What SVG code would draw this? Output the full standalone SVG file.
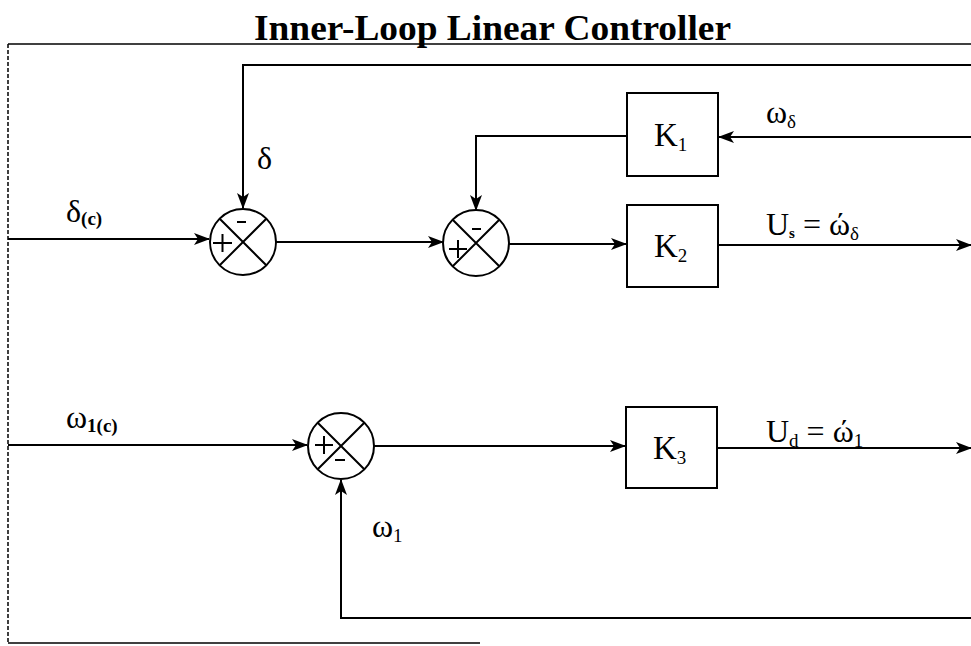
<svg xmlns="http://www.w3.org/2000/svg" width="971" height="646" viewBox="0 0 971 646">
<defs>
<marker id="ah" markerWidth="16" markerHeight="12" refX="15" refY="6" orient="auto" markerUnits="userSpaceOnUse">
<path d="M0,0 L16,6 L0,12 L4,6 Z" fill="#000"/>
</marker>
</defs>
<style>
.ln{stroke:#000;stroke-width:2;fill:none}
.bx{stroke:#000;stroke-width:2;fill:#fff}
.t{font-family:"Liberation Serif","Times New Roman",serif;fill:#000}
.lb{font-size:32px}
.sb{font-size:19px}
.kk{font-size:33px}
</style>
<rect width="971" height="646" fill="#fff"/>
<text class="t" x="254" y="40" font-size="35" font-weight="bold" textLength="477" lengthAdjust="spacingAndGlyphs">Inner-Loop Linear Controller</text>
<g id="border">
<path d="M8,44 L971,44" stroke="#000" stroke-width="1.5" fill="none"/>
<path d="M8,44 L8,643" stroke="#000" stroke-width="1.5" stroke-dasharray="4,2" fill="none"/>
<path d="M8,643 L480,643" stroke="#000" stroke-width="1.5" fill="none"/>
</g>
<g id="connectors">
<path class="ln" d="M8,239 L209,239" marker-end="url(#ah)"/>
<path class="ln" d="M971,65 L243,65 L243,208" marker-end="url(#ah)"/>
<path class="ln" d="M276,242 L443,242" marker-end="url(#ah)"/>
<path class="ln" d="M971,137 L719,137" marker-end="url(#ah)"/>
<path class="ln" d="M627,136 L476,136 L476,210" marker-end="url(#ah)"/>
<path class="ln" d="M509,244 L626,244" marker-end="url(#ah)"/>
<path class="ln" d="M718,245 L971,245" marker-end="url(#ah)"/>
<path class="ln" d="M8,445 L307,445" marker-end="url(#ah)"/>
<path class="ln" d="M374,446 L625,446" marker-end="url(#ah)"/>
<path class="ln" d="M717,448 L971,448" marker-end="url(#ah)"/>
<path class="ln" d="M971,618 L341,618 L341,480" marker-end="url(#ah)"/>
</g>
<g id="sum1">
<circle class="bx" cx="243" cy="242" r="33"/>
<path class="ln" d="M219.7,218.7 L266.3,265.3 M266.3,218.7 L219.7,265.3"/>
<path class="ln" d="M213,243 L232,243 M222.5,234 L222.5,252"/>
<path class="ln" stroke-width="3" d="M237,222 L246,222"/>
</g>
<g id="sum2">
<circle class="bx" cx="476" cy="243" r="33"/>
<path class="ln" d="M449,249 L467,249 M458,240 L458,258"/>
<path class="ln" d="M452.7,219.7 L499.3,266.3 M499.3,219.7 L452.7,266.3"/>
<path class="ln" stroke-width="3" d="M472,229 L481,229"/>
</g>
<g id="sum3">
<circle class="bx" cx="341" cy="446" r="33"/>
<path class="ln" d="M317.7,422.7 L364.3,469.3 M364.3,422.7 L317.7,469.3"/>
<path class="ln" d="M315,445 L333,445 M324,436 L324,454"/>
<path class="ln" stroke-width="3" d="M335,460 L345,460"/>
</g>
<g id="K1">
<rect class="bx" x="627" y="93" width="91" height="83"/>
<text class="t kk" x="654" y="146">K<tspan font-size="19" dy="5">1</tspan></text>
</g>
<g id="K2">
<rect class="bx" x="627" y="205" width="91" height="82"/>
<text class="t kk" x="654" y="257">K<tspan font-size="19" dy="5">2</tspan></text>
</g>
<g id="K3">
<rect class="bx" x="626" y="407" width="91" height="81"/>
<text class="t kk" x="653" y="459">K<tspan font-size="19" dy="5">3</tspan></text>
</g>
<g id="labels">
<text class="t lb" x="66" y="222">δ<tspan class="sb" font-weight="bold" dy="3">(c)</tspan></text>
<text class="t lb" x="257" y="169">δ</text>
<text class="t lb" x="766" y="123">ω<tspan class="sb" dy="5">δ</tspan></text>
<text class="t lb" x="766" y="235">U<tspan font-size="15" font-weight="bold" dy="3">s</tspan><tspan dy="-3"> = ώ</tspan><tspan class="sb" dy="5">δ</tspan></text>
<text class="t lb" x="66" y="428">ω<tspan class="sb" font-weight="bold" dy="4">1(c)</tspan></text>
<text class="t lb" x="766" y="442">U<tspan class="sb" dy="5">d</tspan><tspan dy="-5"> = ώ</tspan><tspan class="sb" dy="5">1</tspan></text>
<text class="t lb" x="372" y="537">ω<tspan class="sb" dy="5">1</tspan></text>
</g>
</svg>
